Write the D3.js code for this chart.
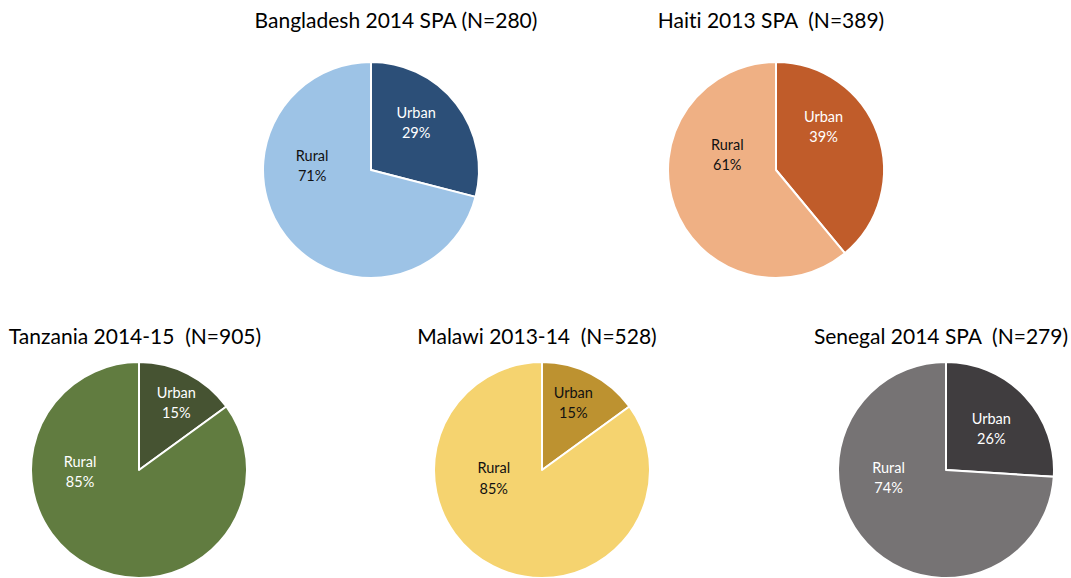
<!DOCTYPE html>
<html>
<head>
  <meta charset="utf-8" />
  <title>Urban / Rural SPA samples</title>
  <script src="https://d3js.org/d3.v7.min.js"></script>
  <style>
    body { margin: 0; background: #fff; }
    .title { font-family: Lato, "Open Sans", sans-serif; font-size: 21px; fill: #000; font-variant-ligatures: none; }
    .lbl { font-family: Lato, "Open Sans", sans-serif; font-size: 14.5px; font-variant-ligatures: none; }
  </style>
</head>
<body>
  <div id="chart"></div>
  <script>
    // data
    const surveys = ["Bangladesh 2014 SPA (N=280)", "Haiti 2013 SPA  (N=389)", "Tanzania 2014-15  (N=905)", "Malawi 2013-14  (N=528)", "Senegal 2014 SPA  (N=279)"];
    const categories = ["Urban", "Rural"];
    const urbanPct = [29, 39, 15, 15, 26];
    const ruralPct = [71, 61, 85, 85, 74];

    // colours: [urban, rural]
    const colors = [
      ["#2c4f78", "#9dc3e6"],
      ["#c05c2a", "#efb084"],
      ["#465332", "#617c40"],
      ["#bd9230", "#f5d36f"],
      ["#403d3f", "#767374"]
    ];
    const labelColors = [
      ["#fff", "#111"],
      ["#fff", "#111"],
      ["#fff", "#fff"],
      ["#111", "#111"],
      ["#fff", "#fff"]
    ];
    // layout of each pie: centre, title baseline, label polar placement (deg, radius)
    const layout = [
      { cx: 371, cy: 170, ty: 28, tx: 396, lab: [[44, 65], [274, 59]] },
      { cx: 776, cy: 170, ty: 28, tx: 771, lab: [[48, 64], [287, 51]] },
      { cx: 139, cy: 470, ty: 344, tx: 135, lab: [[29, 77], [268, 59]] },
      { cx: 542, cy: 470, ty: 344, tx: 537, lab: [[25, 74], [260, 49]] },
      { cx: 946, cy: 470, ty: 344, tx: 941, lab: [[48, 61], [262, 58]] }
    ];

    const width = 1071, height = 578, radius = 108;

    const svg = d3.select("#chart").append("svg")
      .attr("width", width).attr("height", height)
      .attr("viewBox", [0, 0, width, height]);

    const pie = d3.pie().sort(null).value(d => d.value);
    const arc = d3.arc().innerRadius(0).outerRadius(radius);

    surveys.forEach((name, i) => {
      const L = layout[i];
      const rows = categories.map((c, k) => ({ cat: c, value: k === 0 ? urbanPct[i] : ruralPct[i], k }));

      svg.append("text").attr("class", "title")
        .attr("x", L.tx).attr("y", L.ty)
        .attr("text-anchor", "middle")
        .style("white-space", "pre")
        .text(name);

      const g = svg.append("g").attr("transform", `translate(${L.cx},${L.cy})`);

      g.selectAll("path")
        .data(pie(rows))
        .join("path")
        .attr("d", arc)
        .attr("fill", d => colors[i][d.data.k])
        .attr("stroke", "#fff")
        .attr("stroke-width", 2)
        .attr("stroke-linejoin", "round");

      const lab = g.selectAll("text")
        .data(pie(rows))
        .join("text")
        .attr("class", "lbl")
        .attr("text-anchor", "middle")
        .attr("fill", d => labelColors[i][d.data.k])
        .attr("transform", d => {
          const [deg, r] = L.lab[d.data.k];
          const a = deg * Math.PI / 180;
          return `translate(${r * Math.sin(a)},${-r * Math.cos(a)})`;
        });
      lab.append("tspan").attr("x", 0).attr("dy", "-0.35em").text(d => d.data.cat);
      lab.append("tspan").attr("x", 0).attr("dy", "1.4em").text(d => d.data.value + "%");
    });
  </script>
</body>
</html>
